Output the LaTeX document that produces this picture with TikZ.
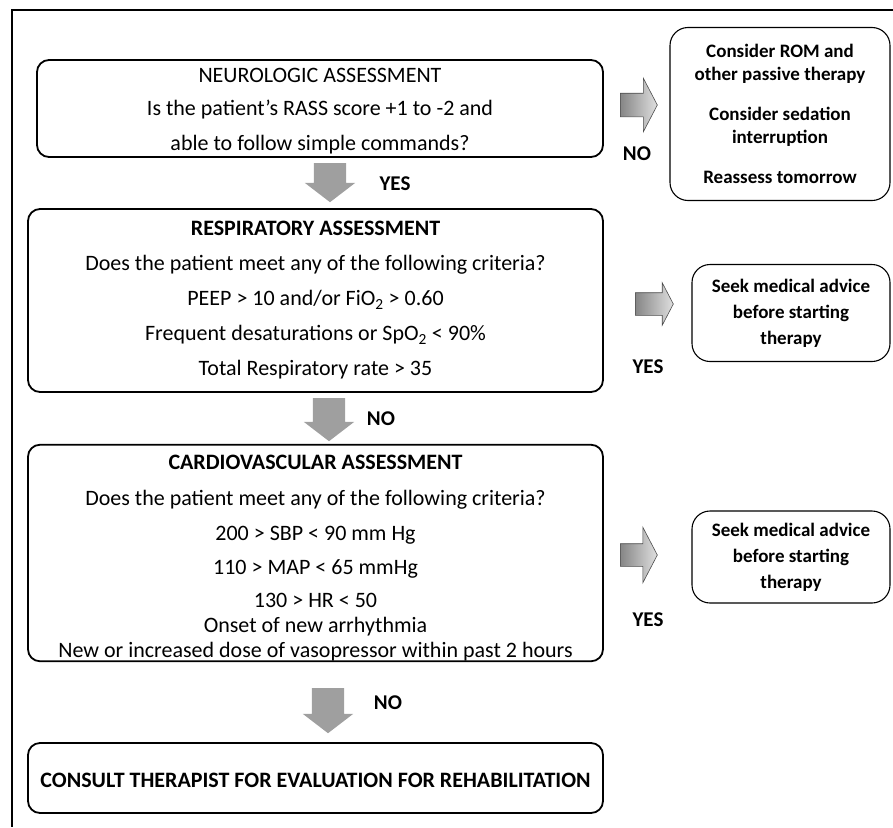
\documentclass[tikz,border=0pt]{standalone}
\usepackage{fontspec}
\setmainfont{Carlito}
\usetikzlibrary{shapes.arrows,positioning}

\tikzset{
  stepbox/.style={draw, line width=1.8pt, rounded corners=12pt, align=center,
    inner sep=0pt, font=\fontsize{22}{35}\selectfont},
  sidebox/.style={draw, line width=1.1pt, rounded corners=18pt, align=center,
    inner sep=0pt, font=\fontsize{19}{26}\selectfont\bfseries},
  downarrow/.style={single arrow, fill=gray!75, draw=none, rotate=-90,
    inner xsep=0pt, inner ysep=16pt, single arrow head extend=9pt,
    single arrow tip angle=105, minimum width=0pt, anchor=tail},
  sidearrow/.style={single arrow, left color=gray!95, right color=gray!25,
    draw=gray!60!black, line width=0.6pt, inner xsep=0pt, inner ysep=11.5pt,
    single arrow head extend=15pt, single arrow tip angle=125,
    minimum width=0pt, minimum height=37pt, anchor=tail},
  answer/.style={font=\fontsize{21}{22}\selectfont\bfseries}
}

\begin{document}
\begin{tikzpicture}[x=1pt,y=-1pt]
        \useasboundingbox (0,0) rectangle (893,827);
        \draw[line width=2.2pt] (893,10) -- (12,10) -- (12,827);

        \node[stepbox, minimum width=566pt, minimum height=97pt] (neuro) at (320,108.5)
            {\rule{0pt}{20pt}NEUROLOGIC ASSESSMENT\\[-2pt]
             Is the patient’s RASS score +1 to -2 and\\
             able to follow simple commands?};
        \node[stepbox, minimum width=575pt, minimum height=183pt] (resp) at (315.5,300.5)
            {\textbf{RESPIRATORY ASSESSMENT}\\
             Does the patient meet any of the following criteria?\\
             PEEP > 10 and/or FiO\textsubscript{2} > 0.60\\
             Frequent desaturations or SpO\textsubscript{2} < 90\%\\
             Total Respiratory rate > 35};
        \node[stepbox, minimum width=575pt, minimum height=216pt] (cardio) at (315.5,553)
            {\rule{0pt}{25pt}\textbf{CARDIOVASCULAR ASSESSMENT}\\[1pt]
             Does the patient meet any of the following criteria?\\
             200 > SBP < 90 mm Hg\\[-1pt]
             110 > MAP < 65 mmHg\\[-2pt]
             130 > HR < 50\\[-10pt]
             Onset of new arrhythmia\\[-10pt]
             New or increased dose of vasopressor within past 2 hours};
        \node[stepbox, minimum width=575pt, minimum height=70pt] (consult) at (315.5,778)
            {\rule{0pt}{19pt}\textbf{CONSULT THERAPIST FOR EVALUATION FOR REHABILITATION}};

        \node[sidebox, minimum width=220pt, minimum height=173pt,
              font=\fontsize{19}{23}\selectfont\bfseries] (passive) at (780,114)
            {Consider ROM and\\other passive therapy\\[17pt]
             Consider sedation\\interruption\\[17pt]
             Reassess tomorrow};
        \node[sidebox, minimum width=198pt, minimum height=97pt] (advice1) at (791,313)
            {Seek medical advice\\before starting\\therapy};
        \node[sidebox, minimum width=198pt, minimum height=92pt] (advice2) at (791,557)
            {Seek medical advice\\before starting\\therapy};

        \node[downarrow, minimum height=39pt] (down1) at (330,163) {};
        \node[downarrow, minimum height=43pt] (down2) at (329,398) {};
        \node[downarrow, minimum height=45pt] (down3) at (328,688) {};
        \node[answer] (yes1) at (395,184) {YES};
        \node[answer] (no2) at (381,419) {NO};
        \node[answer] (no3) at (388,703) {NO};

        \node[sidearrow] (side1) at (620,105) {};
        \node[sidearrow, minimum height=38pt, inner ysep=11pt,
              single arrow head extend=10pt] (side2) at (635,304) {};
        \node[sidearrow, inner ysep=11pt, single arrow head extend=16.5pt] (side3) at (620,555) {};
        \node[answer] (no1) at (637,154) {NO};
        \node[answer] (yes2) at (648,367) {YES};
        \node[answer] (yes3) at (648,620) {YES};
    \end{tikzpicture}
\end{document}
